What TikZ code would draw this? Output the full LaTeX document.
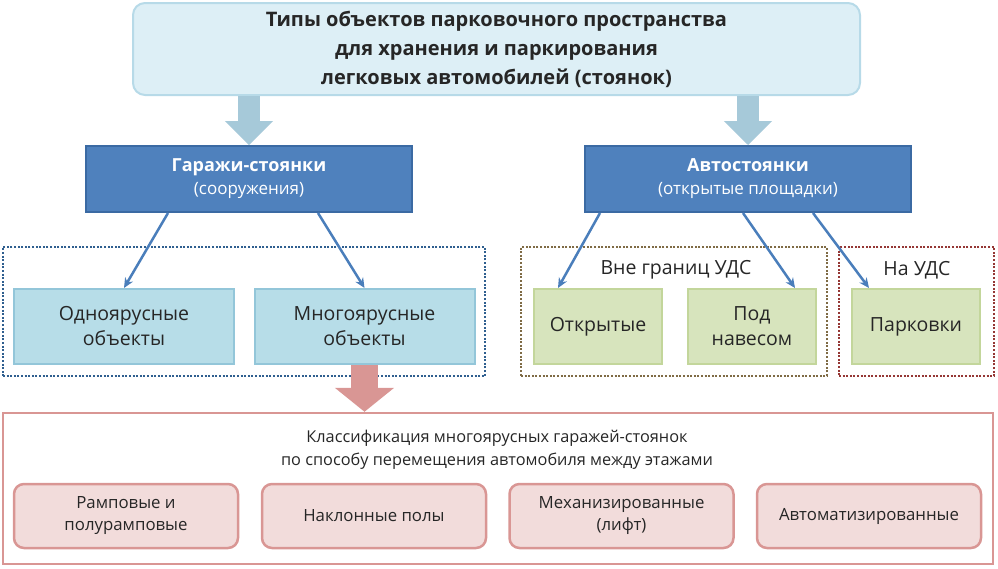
\documentclass[tikz,border=0pt]{standalone}
\usepackage{fontspec}
\setmainfont{Open Sans}
\usetikzlibrary{positioning,arrows.meta}

\definecolor{txt}{HTML}{262626}
\definecolor{topfill}{HTML}{DDEFF6}
\definecolor{topline}{HTML}{B7DAE8}
\definecolor{fatblue}{HTML}{A6C9D9}
\definecolor{darkfill}{HTML}{4F81BD}
\definecolor{darkline}{HTML}{3B6AA3}
\definecolor{bluefill}{HTML}{B7DDE8}
\definecolor{blueline}{HTML}{93C6D9}
\definecolor{arrowblue}{HTML}{4A7EBB}
\definecolor{greenfill}{HTML}{D7E4BD}
\definecolor{greenline}{HTML}{C3D69B}
\definecolor{pinkfill}{HTML}{F2DCDB}
\definecolor{pinkline}{HTML}{D99694}
\definecolor{dotblue}{HTML}{2F5F8F}
\definecolor{dotbrown}{HTML}{7F6B45}
\definecolor{dotred}{HTML}{953735}

\begin{document}
\begin{tikzpicture}[x=1pt,y=-1pt,
	every node/.style={font=\fontsize{19.5}{25}\selectfont, text=txt, align=center, inner sep=0pt},
	headbox/.style={draw=topline, fill=topfill, line width=2pt, rounded corners=12pt, minimum width=727pt, minimum height=92pt, font=\bfseries\fontsize{20}{29}\selectfont},
	mainbox/.style={draw=darkline, fill=darkfill, line width=2pt, minimum width=326pt, minimum height=66pt, text=white},
	bluebox/.style={draw=blueline, fill=bluefill, line width=2pt, minimum width=220pt, minimum height=75pt},
	greenbox/.style={draw=greenline, fill=greenfill, line width=2pt, minimum width=128pt, minimum height=75pt},
	pinkbox/.style={draw=pinkline, fill=pinkfill, line width=2.5pt, rounded corners=10pt, minimum width=224pt, minimum height=64pt, font=\fontsize{16.8}{22}\selectfont},
	groupbox/.style={line width=2.6pt, dash pattern=on 2pt off 1.6pt, minimum height=129pt},
	fatarrow/.style={line width=#1, -{Triangle[length=24pt, width=2.2*#1, line width=0pt]}},
	thinarrow/.style={draw=arrowblue, line width=2.5pt, -{Stealth[length=10pt, width=9pt]}}
]
	\useasboundingbox (0,0) rectangle (998,568);

	\node[headbox] (types) at (496.5,49) {Типы объектов парковочного пространства\\для хранения и паркирования\\легковых автомобилей (стоянок)};

	\node[mainbox] (garages) at (249,179) {{\bfseries\fontsize{18}{22}\selectfont Гаражи-стоянки}\\[-2pt]{\fontsize{17}{20}\selectfont (сооружения)}};
	\node[mainbox] (lots) at (748,179) {{\bfseries\fontsize{18}{22}\selectfont Автостоянки}\\[-2pt]{\fontsize{17}{20}\selectfont (открытые площадки)}};

	\node[groupbox, draw=dotblue, minimum width=482pt] (grpgar) at (244,311.5) {};
	\node[groupbox, draw=dotbrown, minimum width=306pt] (grpout) at (674,311.5) {};
	\node[groupbox, draw=dotred, minimum width=155pt] (grpuds) at (916.5,311.5) {};
	\node (outlabel) at (676,270) {Вне границ УДС};
	\node (udslabel) at (917,270) {На УДС};

	\node[bluebox] (single) at (124,326.5) {Одноярусные\\объекты};
	\node[bluebox] (multi) at (364.5,326.5) {Многоярусные\\объекты};
	\node[greenbox] (open) at (598,326.5) {Открытые};
	\node[greenbox] (roof) at (752,326.5) {Под\\навесом};
	\node[greenbox] (parking) at (916,326.5) {Парковки};

	\node[draw=pinkline, line width=2.5pt, minimum width=990pt, minimum height=151pt] (classes) at (498,488.5) {};
	\node[font=\fontsize{16.3}{23}\selectfont] (classtitle) at (497,450) {Классификация многоярусных гаражей-стоянок\\по способу перемещения автомобиля между этажами};
	\node[pinkbox] (ramp) at (126,516) {Рамповые и\\полурамповые};
	\node[pinkbox] (sloped) at (374,516) {Наклонные полы};
	\node[pinkbox] (lift) at (621.5,516) {Механизированные\\(лифт)};
	\node[pinkbox] (auto) at (869,516) {Автоматизированные};

	\draw[fatarrow=22pt, fatblue] (types.south -| garages.north) -- (garages.north);
	\draw[fatarrow=22pt, fatblue] (types.south -| lots.north) -- (lots.north);
	\draw[fatarrow=27pt, pinkline] (multi.south) -- (multi.south |- classes.north);

	\draw[thinarrow] ([xshift=-81pt]garages.south) -- (single.north);
	\draw[thinarrow] ([xshift=69pt]garages.south) -- (multi.north);
	\draw[thinarrow] ([xshift=-148pt]lots.south) -- ([xshift=-40pt]open.north);
	\draw[thinarrow] ([xshift=-5pt]lots.south) -- ([xshift=43pt]roof.north);
	\draw[thinarrow] ([xshift=65pt]lots.south) -- ([xshift=-47pt]parking.north);
\end{tikzpicture}
\end{document}
